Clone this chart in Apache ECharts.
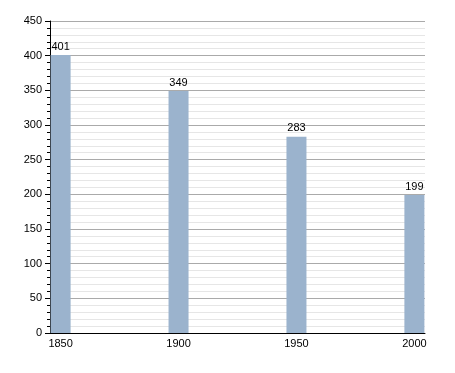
<!DOCTYPE html>
<html><head><meta charset="utf-8">
<script src="https://cdn.jsdelivr.net/npm/echarts@6/dist/echarts.min.js"></script>
<style>html,body{margin:0;padding:0;background:#fff}#c{width:455px;height:373px}</style>
</head><body><div id="c"></div>
<script>
var years = [1850, 1900, 1950, 2000];
var population = [401, 349, 283, 199];
var yTicks = [0, 50, 100, 150, 200, 250, 300, 350, 400, 450];

var chart = echarts.init(document.getElementById('c'), null, {renderer: 'canvas'});
var font = '"Liberation Sans", Arial, sans-serif';
chart.setOption({
  animation: false,
  grid: {left: 50, right: 30, top: 21, bottom: 40},
  xAxis: {
    type: 'value', min: 1845.5, max: 2004.5,
    axisLine: {show: true, lineStyle: {color: '#000', width: 1}},
    axisTick: {show: false},
    splitLine: {show: false},
    axisLabel: {customValues: years, formatter: function (v) { return String(v); },
      color: '#000', fontSize: 11, fontFamily: font, margin: 5}
  },
  yAxis: {
    type: 'value', min: 0, max: 450, interval: 50,
    axisLine: {show: true, lineStyle: {color: '#000', width: 1}},
    axisTick: {show: true, length: 5, lineStyle: {color: '#000'}},
    minorTick: {show: true, splitNumber: 5, length: 3, lineStyle: {color: '#000'}},
    splitLine: {show: true, lineStyle: {color: '#aaa', width: 1}},
    minorSplitLine: {show: true, lineStyle: {color: '#e6e6e6', width: 1}},
    axisLabel: {color: '#000', fontSize: 11, fontFamily: font, margin: 8}
  },
  series: [{
    type: 'bar',
    data: years.map(function (y, i) { return [y, population[i]]; }),
    barWidth: 20,
    itemStyle: {color: '#9bb3cd'},
    label: {show: true, position: 'top', distance: 3, color: '#000', fontSize: 11, fontFamily: font}
  }]
});
</script></body></html>
